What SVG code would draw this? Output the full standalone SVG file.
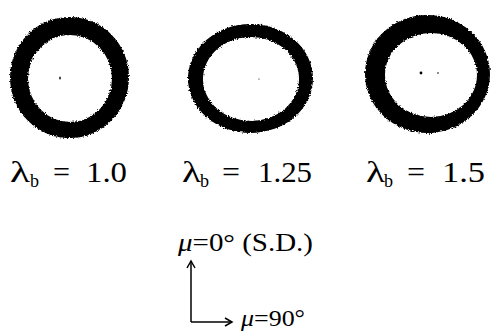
<svg xmlns="http://www.w3.org/2000/svg" width="493" height="332" viewBox="0 0 493 332">
<style>
.ring{fill:#000;fill-rule:evenodd;filter:url(#rough)}
.lbl{font-family:"Liberation Serif","Times New Roman",serif;font-size:30px;fill:#000}
.sub{font-family:"Liberation Serif","Times New Roman",serif;font-size:18px;fill:#000}
.ax{font-family:"Liberation Serif","Times New Roman",serif;font-size:26px;fill:#000}
.ax2{font-family:"Liberation Serif","Times New Roman",serif;font-size:24px;fill:#000}
.mu{font-style:italic}
.arr{fill:none;stroke:#000;stroke-width:1.5}
</style>
<defs>
<filter id="rough" x="-10%" y="-10%" width="120%" height="120%">
<feTurbulence type="fractalNoise" baseFrequency="0.7" numOctaves="2" seed="3" result="n"/>
<feDisplacementMap in="SourceGraphic" in2="n" scale="3.5" xChannelSelector="R" yChannelSelector="G"/>
</filter>
<marker id="ah" markerWidth="10" markerHeight="10" refX="8" refY="5" orient="auto" markerUnits="userSpaceOnUse">
<path d="M1,1 L8,5 L1,9" fill="none" stroke="#000" stroke-width="1.5"/>
</marker>
</defs>
<rect width="493" height="332" fill="#fff"/>
<g id="ring1">
<path class="ring" d="M10,77.5 a59.5,60.5 0 1,0 119,0 a59.5,60.5 0 1,0 -119,0 Z M28,78.5 a42,43.5 0 1,0 84,0 a42,43.5 0 1,0 -84,0 Z"/>
<ellipse cx="60" cy="78" rx="0.8" ry="1.6" fill="#000"/>
</g>
<g id="ring2">
<path class="ring" d="M188,78.5 a62.5,54.5 0 1,0 125,0 a62.5,54.5 0 1,0 -125,0 Z M203,79 a48,42 0 1,0 96,0 a48,42 0 1,0 -96,0 Z"/>
<circle cx="259" cy="79" r="0.6" fill="#000"/>
</g>
<g id="ring3">
<path class="ring" d="M365,74 a62.5,59 0 1,0 125,0 a62.5,59 0 1,0 -125,0 Z M385,75 a46,42 0 1,0 92,0 a46,42 0 1,0 -92,0 Z"/>
<path class="ring" d="M420,129 L430,134 L440,129 Z"/>
<circle cx="421" cy="73" r="1.4" fill="#000"/>
<circle cx="438" cy="73" r="0.8" fill="#000"/>
</g>
<g id="label1">
<text class="lbl" x="10" y="182" textLength="20" lengthAdjust="spacingAndGlyphs">λ</text>
<text class="sub" x="30" y="187">b</text>
<text class="lbl" x="53" y="182" textLength="17" lengthAdjust="spacingAndGlyphs">=</text>
<text class="lbl" x="86" y="182" textLength="41" lengthAdjust="spacingAndGlyphs">1.0</text>
</g>
<g id="label2">
<text class="lbl" x="182" y="182" textLength="19" lengthAdjust="spacingAndGlyphs">λ</text>
<text class="sub" x="200" y="187">b</text>
<text class="lbl" x="222" y="182" textLength="18" lengthAdjust="spacingAndGlyphs">=</text>
<text class="lbl" x="258" y="182" textLength="54" lengthAdjust="spacingAndGlyphs">1.25</text>
</g>
<g id="label3">
<text class="lbl" x="366" y="182" textLength="19" lengthAdjust="spacingAndGlyphs">λ</text>
<text class="sub" x="384" y="187">b</text>
<text class="lbl" x="407" y="182" textLength="18" lengthAdjust="spacingAndGlyphs">=</text>
<text class="lbl" x="442" y="182" textLength="43" lengthAdjust="spacingAndGlyphs">1.5</text>
</g>
<g id="axis-sd">
<text class="ax" x="178" y="251" textLength="135" lengthAdjust="spacingAndGlyphs"><tspan class="mu">μ</tspan>=0° (S.D.)</text>
</g>
<g id="axis-90">
<text class="ax2" x="241" y="326" textLength="64" lengthAdjust="spacingAndGlyphs"><tspan class="mu">μ</tspan>=90°</text>
</g>
<g id="connectors">
<path class="arr" d="M191,322 L191,261" marker-end="url(#ah)"/>
<path class="arr" d="M191,322 L232,322" marker-end="url(#ah)"/>
</g>
</svg>
